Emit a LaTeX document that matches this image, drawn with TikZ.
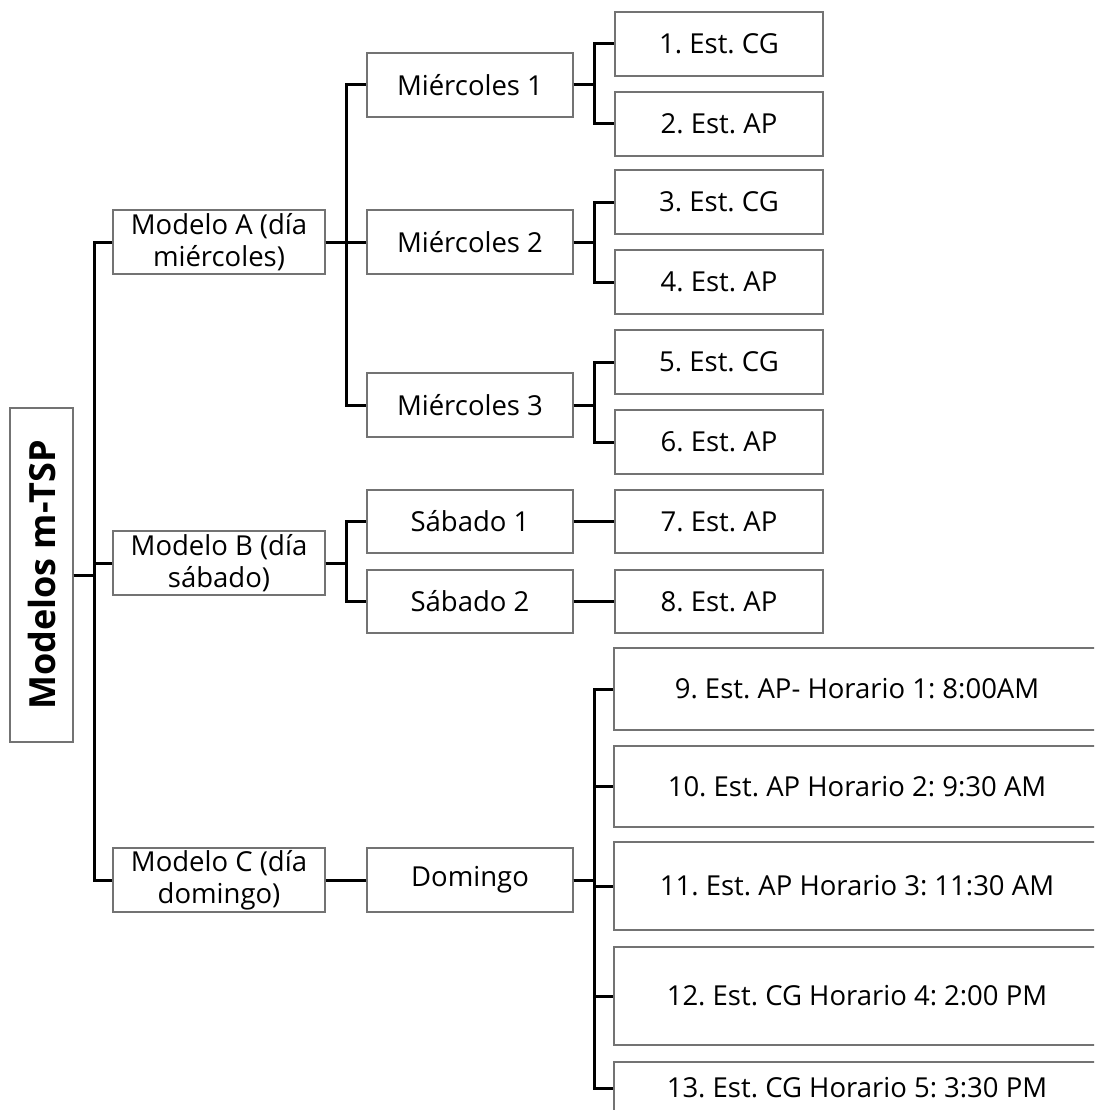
\documentclass[tikz,border=0pt]{standalone}
\usepackage{fontspec}
\setmainfont{Open Sans}
\usepackage{tikz}
\usetikzlibrary{positioning}
\frenchspacing
\tikzset{
  box/.style    ={draw=black!55, line width=1.3pt, inner sep=0pt, align=center, fill=white,
                  minimum width=206pt, minimum height=64pt, font=\fontsize{27.5}{32}\selectfont},
  midbox/.style ={box, minimum width=212pt},
  leaf/.style   ={box, minimum width=208pt},
  longleaf/.style={box, minimum width=486pt},
  rootbox/.style={box, rotate=90, minimum width=334pt, minimum height=63pt, font=\fontsize{36}{40}\selectfont\bfseries},
  link/.style   ={line width=3pt, black},
}
\begin{document}
\begin{tikzpicture}[x=1pt, y=-1pt]
  \clip (0,0) rectangle (1094,1110);
  % root and models
  \node[rootbox] (root) at (41.5,575) {Modelos m-TSP};
  \node[midbox] (mA) at (219,242) {Modelo A (día\\miércoles)};
  \node[midbox] (mB) at (219,563) {Modelo B (día\\sábado)};
  \node[midbox] (mC) at (219,880) {Modelo C (día\\domingo)};
  % days
  \node[box] (mi1) at (470,85)  {Miércoles 1};
  \node[box] (mi2) at (470,242) {Miércoles 2};
  \node[box] (mi3) at (470,405) {Miércoles 3};
  \node[box, minimum height=63pt] (sa1) at (470,521.5) {Sábado 1};
  \node[box, minimum height=63pt] (sa2) at (470,601.5) {Sábado 2};
  \node[box] (dom) at (470,880) {Domingo};
  % stations
  \node[leaf] (e1) at (719,44)  {1. Est. CG};
  \node[leaf] (e2) at (719,124) {2. Est. AP};
  \node[leaf] (e3) at (719,202) {3. Est. CG};
  \node[leaf] (e4) at (719,282) {4. Est. AP};
  \node[leaf] (e5) at (719,362) {5. Est. CG};
  \node[leaf] (e6) at (719,442) {6. Est. AP};
  \node[leaf, minimum height=63pt] (e7) at (719,521.5) {7. Est. AP};
  \node[leaf, minimum height=63pt] (e8) at (719,601.5) {8. Est. AP};
  \node[longleaf, minimum height=82pt] (e9)  at (857,689)   {9. Est. AP- Horario 1: 8:00AM};
  \node[longleaf, minimum height=81pt] (e10) at (857,786.5) {10. Est. AP Horario 2: 9:30 AM};
  \node[longleaf, minimum height=88pt] (e11) at (857,886)   {11. Est. AP Horario 3: 11:30 AM};
  \node[longleaf, minimum height=98pt] (e12) at (857,996)   {12. Est. CG Horario 4: 2:00 PM};
  \node[longleaf, minimum height=52pt] (e13) at (857,1088)  {13. Est. CG Horario 5: 3:30 PM};
  % connectors (root is turned, so its right side is .south)
  \foreach \b in {mA, mB, mC}
    \draw[link] (root.south) -- ++(20.5,0) |- (\b.west);
  \foreach \a/\b in {mA/mi1, mA/mi2, mA/mi3, mB/sa1, mB/sa2, mC/dom,
                     mi1/e1, mi1/e2, mi2/e3, mi2/e4, mi3/e5, mi3/e6, sa1/e7, sa2/e8,
                     dom/e9, dom/e10, dom/e11, dom/e12, dom/e13}
    \draw[link] (\a.east) -- ++(20.5,0) |- (\b.west);
\end{tikzpicture}
\end{document}
